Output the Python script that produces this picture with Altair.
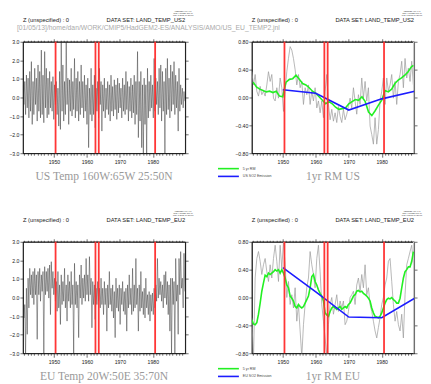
import altair as alt
import numpy as np
import pandas as pd

# ------------------------------------------------------------------ data
X_DOMAIN = [1940.6, 1989.8]
RED_YEARS = [1950.5, 1962.6, 1963.6, 1980.7]
EDGE_YEAR = [1989.7]

# monthly anomalies (read as high/low pairs, ~half-year slots)
US_MONTHLY = [
    0.68, -0.38, 0.86, -0.92, 1.21, -0.56, 1.04, -1.10, 1.40, -0.74, 1.93, -1.45, 0.86, -0.92, 1.57, -0.38, 1.04, -1.27, 1.75, -0.74,
    1.40, -1.10, 2.55, -0.92, 1.20, -1.36, 2.47, -0.56, 1.57, -1.10, 1.04, -0.92, 1.40, -0.56, 0.86, -0.74, 1.12, -1.18, 0.68, -0.38,
    0.86, -0.92, 0.50, -1.54, 1.40, -1.72, 3.00, -0.74, 1.75, -1.27, 0.86, -0.92, 3.00, -0.38, 1.04, -1.45, 0.95, -0.74, 1.57, -1.00,
    0.86, -0.65, 2.10, -1.10, 1.04, -0.74, 1.40, -1.27, 0.86, -0.92, 1.75, -0.56, 0.86, -1.10, 1.20, -0.74, 0.68, -1.45, 1.04, -2.70,
    0.50, -0.92, 1.57, -1.27, 0.68, -0.92, 1.20, -1.63, 0.50, -0.74, 0.86, -1.10, 1.57, -0.38, 0.86, -1.81, 0.68, -0.74, 1.04, -1.10,
    0.50, -0.65, 0.86, -0.92, 0.68, -1.27, 1.20, -0.74, 0.59, -1.00, 0.95, -0.65, 0.68, -1.18, 1.04, -0.83, 0.77, -0.56, 0.50, -1.10,
    1.04, -0.74, 0.68, -0.92, 1.40, -0.65, 0.86, -1.27, 0.59, -0.74, 1.04, -1.10, 0.68, -0.83, 1.20, -1.45, 0.86, -0.92, 2.47, -2.16,
    0.86, -1.27, 1.40, -2.70, 0.68, -3.00, 1.04, -1.45, 0.68, -3.00, 1.57, -1.10, 0.86, -0.74, 1.20, -0.56, 0.68, -1.10, 2.10, -0.74,
    1.04, -0.38, 0.86, -0.92, 1.57, -0.56, 1.75, -1.27, 1.40, -0.74, 0.86, -3.00, 1.57, -0.92, 2.10, -0.65, 1.04, -1.10, 1.75, -0.74,
    1.40, -0.38, 1.93, -0.92, 1.20, -0.56, 0.86, -1.81, 1.57, -0.74, 0.68, -0.38, 0.50, -0.56, 0.32, -0.20,
]
EU_MONTHLY = [
    -0.03, -1.10, -0.38, -3.00, 0.50, -1.98, 1.04, -0.56, 1.57, 0.15, 1.22, -0.03, 1.40, -0.38, 1.57, 0.15, 1.22, -2.25, 1.40, 0.15,
    1.57, -0.20, 1.22, 0.33, 1.40, -3.00, 1.66, 0.15, 1.40, 0.33, 1.57, -0.03, 1.75, -0.92, 1.93, 0.50, 1.40, 0.15, 1.04, -0.20,
    0.86, -0.74, 1.40, -0.56, 0.68, -1.45, 1.22, -0.38, 0.86, -0.20, 1.57, -0.56, 0.68, -1.27, 1.22, -0.20, 0.86, -0.56, 1.40, -0.38,
    0.68, -3.00, 1.84, -0.38, 0.86, -0.56, 0.68, -2.16, 1.22, -0.03, 1.75, -0.38, 1.04, -0.03, 1.22, -0.20, 2.10, 0.15, 1.22, -0.20,
    2.20, 0.15, 1.04, -1.63, 0.86, -0.38, 0.68, -1.18, 0.50, -0.38, 0.86, -0.20, 0.50, -0.56, 1.04, -0.38, 0.50, -0.92, 0.86, -0.38,
    0.50, -1.81, 0.68, -0.56, 1.40, -0.38, 0.50, -0.74, 0.68, -1.10, 0.32, -2.16, 1.04, -0.56, 0.50, -0.74, 0.68, -1.45, 0.50, -0.38,
    0.86, -0.74, 0.32, -0.92, 0.50, -1.81, 0.68, -0.56, 1.22, -0.38, 0.50, -0.92, 1.57, -0.74, 0.68, -0.56, 2.10, -0.38, 0.50, -1.81,
    0.68, -0.74, 1.40, -0.56, 0.32, -0.92, 0.50, -1.10, 1.04, -0.56, 0.15, -0.92, 0.32, -1.27, 0.15, -0.74, 0.24, -0.92, 0.50, -0.56,
    0.68, -0.20, 2.10, -0.03, 1.04, 0.15, 0.86, -0.20, 0.68, -0.56, 1.22, -0.03, 1.40, -0.38, 0.86, -0.92, 0.68, -1.81, 1.04, -3.00,
    1.04, -0.38, 0.86, -3.00, 2.10, -0.20, 0.68, -1.98, 2.10, 0.15, 2.47, 0.50, 1.04, -0.56, 2.38, 0.33,
]

# 1-yr running means (half-year readings)
US_1YR = [
    0.37, 0.18, 0.33, 0.09, 0.02, 0.16, 0.04, 0.09, 0.02, 0.18,
    0.37, 0.23, 0.33, -0.01, -0.05, 0.14, -0.01, 0.28, 0.14, -0.20,
    0.09, 0.37, 0.56, 0.73, 0.68, 0.56, 0.40, 0.18, 0.33, 0.14,
    0.23, -0.10, 0.14, 0.04, 0.18, -0.10, 0.09, -0.05, 0.14, -0.15,
    -0.05, -0.22, -0.05, -0.29, 0.09, 0.33, -0.10, -0.32, -0.17, -0.34,
    -0.22, -0.36, -0.13, -0.27, -0.36, -0.17, -0.32, -0.24, -0.13, -0.01,
    -0.15, 0.14, -0.05, -0.24, 0.04, -0.10, 0.28, -0.01, 0.23, -0.05,
    0.14, -0.41, -0.53, -0.67, -0.29, -0.67, -0.46, -0.05, 0.09, 0.28,
    -0.10, 0.28, 0.09, 0.18, 0.33, -0.01, 0.23, -0.10, 0.23, 0.33,
    0.52, 0.14, 0.56, 0.28, 0.42, 0.23, 0.52, 0.18,
]
EU_1YR = [
    -0.29, -0.90, 0.28, 0.56, 0.66, 0.52, 0.33, 0.47, 0.56, 0.37,
    0.23, 0.47, 0.28, 0.56, 0.75, 0.52, 0.23, 0.75, 0.42, 0.80,
    0.47, 0.00, 0.23, -0.10, 0.04, -0.15, 0.14, -0.34, -0.10, -0.48,
    -0.85, -0.39, -0.10, 0.14, 0.28, 0.66, 0.47, 0.33, 0.14, 0.56,
    0.75, 0.37, -0.10, -0.34, -0.58, -0.85, -0.39, -0.10, 0.00, -0.24,
    -0.10, 0.04, -0.20, -0.05, -0.15, -0.05, -0.39, -0.34, -0.20, 0.00,
    0.04, 0.09, -0.10, 0.18, 0.28, 0.09, 0.33, 0.14, 0.47, 0.04,
    0.14, -0.10, -0.20, -0.34, -0.48, -0.58, -0.43, -0.29, -0.10, 0.00,
    0.18, 0.28, 0.52, 0.56, 0.23, -0.10, -0.34, -0.20, -0.39, -0.48,
    -0.24, -0.58, 0.04, 0.47, 0.56, 0.66, 0.75, 0.47,
]

# 5-yr running means
US_5YR_YEARS = [1941, 1942, 1943, 1944, 1945, 1946, 1947, 1948, 1949, 1950, 1950.5,
                1951, 1952, 1953, 1954, 1955, 1956, 1957, 1958, 1959, 1960,
                1961, 1962, 1963, 1964, 1965, 1966, 1967, 1968, 1969, 1970,
                1971, 1972, 1973, 1974, 1975, 1976, 1977, 1978, 1979, 1980,
                1981, 1982, 1983, 1984, 1985, 1986, 1987, 1988, 1989, 1989.6]
US_5YR = [0.22, 0.15, 0.12, 0.10, 0.08, 0.09, 0.07, 0.09, 0.02, 0.01, 0.13,
          0.22, 0.26, 0.27, 0.32, 0.26, 0.20, 0.18, 0.14, 0.09, 0.06,
          0.01, -0.04, -0.09, -0.06, -0.09, -0.14, -0.17, -0.16, -0.15, -0.09,
          -0.06, -0.03, -0.04, 0.01, -0.06, -0.21, -0.26, -0.19, -0.11, -0.04,
          0.10, 0.08, 0.12, 0.20, 0.25, 0.28, 0.32, 0.37, 0.44, 0.46]
EU_5YR = [
    -0.32, -0.38, -0.39, -0.36, -0.24, -0.08, 0.09, 0.21, 0.32, 0.30,
    0.35, 0.33, 0.35, 0.37, 0.40, 0.38, 0.40, 0.35, 0.40, 0.35,
    0.28, 0.18, 0.14, 0.02, -0.01, -0.05, -0.13, -0.15, -0.10, -0.13,
    -0.15, -0.13, -0.08, -0.03, 0.02, 0.14, 0.30, 0.33, 0.23, 0.18,
    0.11, 0.06, 0.02, -0.05, -0.22, -0.25, -0.27, -0.20, -0.15, -0.13,
    -0.15, -0.17, -0.15, -0.13, -0.17, -0.15, -0.13, -0.15, -0.10, -0.08,
    -0.03, 0.02, 0.04, 0.09, 0.10, 0.08, 0.09, 0.06, 0.04, 0.02,
    -0.01, -0.05, -0.15, -0.22, -0.27, -0.28, -0.29, -0.27, -0.22, -0.15,
    -0.08, -0.03, -0.01, -0.02, 0.00, -0.03, -0.05, -0.08, -0.08, -0.01,
    0.14, 0.28, 0.37, 0.40, 0.44, 0.44, 0.52, 0.66,
]

# SO2 emission (decadal, scaled)
SO2_YEARS = [1950, 1960, 1970, 1980, 1990]
US_SO2 = [0.11, 0.06, -0.18, -0.02, 0.09]
EU_SO2 = [0.43, 0.08, -0.28, -0.29, -0.01]

# text
Z_TEXT = "Z (unspecified) : 0"
DS_US = "DATA SET: LAND_TEMP_US2"
DS_EU = "DATA SET: LAND_TEMP_EU2"
PATH_TEXT = "[01/05/13]/home/dan/WORK/CMIP5/HadGEM2-ES/ANALYSIS/AMO/US_EU_TEMP2.jnl"
FERRET_LINES = ["FERRET Ver. 6.1", "NOAA/PMEL TMAP", "May 1 2013 14:26:07"]
TITLE_TL = "US Temp 160W:65W 25:50N"
TITLE_TR = "1yr RM US"
TITLE_BL = "EU Temp 20W:50E 35:70N"
TITLE_BR = "1yr RM EU"
LEG_GREEN = "5 yr RM"
LEG_BLUE_US = "US SO2 Emission"
LEG_BLUE_EU = "EU SO2 Emission"

LEFT_TICKS = [-3.0, -2.0, -1.0, 0.0, 1.0, 2.0, 3.0]
RIGHT_TICKS = [-0.8, -0.4, 0.0, 0.4, 0.8]
YEAR_TICKS = list(range(1941, 1990))

# ------------------------------------------------------------------ style
W, H = 163, 112
FONT = "Liberation Sans"
SERIF = "Liberation Serif"
RED = "#ff2b2b"
GREEN = "#22f022"
BLUE = "#1c1cff"
AX = "#111111"


def xscale():
    return alt.Scale(domain=X_DOMAIN, nice=False, zero=False)


def bottom_axis():
    return alt.Axis(orient="bottom", values=YEAR_TICKS, format="d",
                    labelExpr="datum.value % 10 == 0 ? datum.label : ''",
                    tickSize={"condition": {"test": "datum.value % 10 == 0", "value": 4}, "value": 2},
                    labelFont=FONT, labelFontSize=5.2, labelColor="#222", labelPadding=2,
                    labelOverlap=False, labelFlush=False, grid=False, title=None,
                    domainColor=AX, domainWidth=0.8, tickColor=AX, tickWidth=0.6)


def top_axis():
    return alt.Axis(orient="top", values=YEAR_TICKS, labels=False,
                    tickSize={"condition": {"test": "datum.value % 10 == 0", "value": 3}, "value": 1.5},
                    grid=False, title=None, domainColor=AX, domainWidth=0.8,
                    tickColor=AX, tickWidth=0.6)


def left_axis(vals, fmt):
    return alt.Axis(orient="left", values=vals, format=fmt, tickSize=3, labelPadding=1,
                    labelFont=FONT, labelFontSize=5.2, labelColor="#222", grid=False,
                    title=None, labelOverlap=False, labelFlush=False,
                    domainColor=AX, domainWidth=0.8, tickColor=AX, tickWidth=0.6)


def right_axis(vals):
    return alt.Axis(orient="right", values=vals, labels=False, tickSize=3, grid=False,
                    title=None, domainColor=AX, domainWidth=0.8, tickColor=AX, tickWidth=0.6)


def text_layer(s, x, y, size, color, align="left", font=FONT, baseline="alphabetic"):
    return alt.Chart(pd.DataFrame({"t": [s]})).mark_text(
        align=align, baseline=baseline, fontSize=size, font=font, color=color
    ).encode(x=alt.value(x), y=alt.value(y), text="t:N")


def header_layers(ds_text, with_path):
    layers = [
        text_layer(Z_TEXT, 0, -19.8, 5.8, "#222"),
        text_layer(ds_text, W, -19.8, 5.8, "#222", align="right"),
    ]
    for i, s in enumerate(FERRET_LINES):
        layers.append(text_layer(s, 161, -32 + i * 2.2, 2.2, "#333", align="center", baseline="top"))
    if with_path:
        layers.append(text_layer(PATH_TEXT, -6, -11.6, 6.8, "#aaaaaa"))
    return layers


def red_layer():
    return alt.Chart(pd.DataFrame({"year": RED_YEARS})).mark_rule(
        color=RED, strokeWidth=1.8, opacity=0.95
    ).encode(x=alt.X("year:Q", scale=xscale(), axis=None))


def left_panel(vals, ds_text, title, with_path):
    years = np.linspace(1940.65, 1989.7, len(vals))
    df = pd.DataFrame({"year": years, "val": vals})
    ys = alt.Scale(domain=[-3, 3], nice=False, zero=False)
    base = alt.Chart(df)
    line = base.mark_line(color="#2a2a2a", strokeWidth=0.45, clip=True).encode(
        x=alt.X("year:Q", scale=xscale(), axis=bottom_axis()),
        y=alt.Y("val:Q", scale=ys, axis=left_axis(LEFT_TICKS, ".1f")))
    helper = base.mark_line(opacity=0).encode(
        x=alt.X("year:Q", scale=xscale(), axis=top_axis()),
        y=alt.Y("val:Q", scale=ys, axis=right_axis(LEFT_TICKS)))
    layers = [line, helper, red_layer()]
    layers += header_layers(ds_text, with_path)
    layers.append(text_layer(title, W / 2, 139, 11.6, "#999999", align="center", font=SERIF))
    return alt.layer(*layers).resolve_axis(x="independent", y="independent").properties(width=W, height=H)


def right_panel(gray_vals, g_years, g_vals, so2_vals, blue_label, ds_text, title):
    years = np.linspace(1940.6, 1989.6, len(gray_vals))
    df = pd.DataFrame({"year": years, "val": gray_vals})
    ys = alt.Scale(domain=[-0.8, 0.8], nice=False, zero=False)
    base = alt.Chart(df)
    gray = base.mark_line(color="#9a9a9a", strokeWidth=0.7, clip=True).encode(
        x=alt.X("year:Q", scale=xscale(), axis=bottom_axis()),
        y=alt.Y("val:Q", scale=ys, axis=left_axis(RIGHT_TICKS, ".2f")))
    helper = base.mark_line(opacity=0).encode(
        x=alt.X("year:Q", scale=xscale(), axis=top_axis()),
        y=alt.Y("val:Q", scale=ys, axis=right_axis(RIGHT_TICKS)))
    edge = alt.Chart(pd.DataFrame({"year": EDGE_YEAR})).mark_rule(
        color="#c8c8c8", strokeWidth=1.5).encode(x=alt.X("year:Q", scale=xscale(), axis=None))
    sdf = pd.concat([
        pd.DataFrame({"year": list(g_years), "val": g_vals, "series": LEG_GREEN, "o": 0}),
        pd.DataFrame({"year": SO2_YEARS, "val": so2_vals, "series": blue_label, "o": 1}),
    ], ignore_index=True)
    smooth = alt.Chart(sdf).mark_line(strokeWidth=1.6, clip=True).encode(
        x=alt.X("year:Q", scale=xscale(), axis=None),
        y=alt.Y("val:Q", scale=ys, axis=None),
        color=alt.Color("series:N",
                        scale=alt.Scale(domain=[LEG_GREEN, blue_label], range=[GREEN, BLUE]),
                        legend=alt.Legend(orient="none", legendX=-27, legendY=124, title=None,
                                          symbolType="M-4,0H4", symbolSize=27.6,
                                          symbolStrokeWidth=1.6, labelFontSize=3.6,
                                          labelFont=FONT, labelColor="#444", labelOffset=11,
                                          rowPadding=0.8, padding=0, symbolOffset=0)),
        order="o:Q")
    layers = [gray, helper, edge, smooth, red_layer()]
    layers += header_layers(ds_text, False)
    layers.append(text_layer(title, W / 2, 139, 11.6, "#999999", align="center", font=SERIF))
    return alt.layer(*layers).resolve_axis(x="independent", y="independent").properties(width=W, height=H)


tl = left_panel(US_MONTHLY, DS_US, TITLE_TL, True)
tr = right_panel(US_1YR, US_5YR_YEARS, US_5YR, US_SO2, LEG_BLUE_US, DS_US, TITLE_TR)
bl = left_panel(EU_MONTHLY, DS_EU, TITLE_BL, False)
br = right_panel(EU_1YR, np.linspace(1940.6, 1989.6, len(EU_5YR)), EU_5YR, EU_SO2, LEG_BLUE_EU, DS_EU, TITLE_BR)

chart = alt.concat(tl, tr, bl, br, columns=2,
                   spacing={"row": 89, "column": 67}, bounds="flush").resolve_scale(
    color="independent").properties(
    padding={"left": 0, "top": 0, "right": 0, "bottom": 0}, background="white"
).configure_view(stroke=AX, strokeWidth=0.8)

chart.save("out.html", embed_options={"renderer": "svg", "actions": False})
